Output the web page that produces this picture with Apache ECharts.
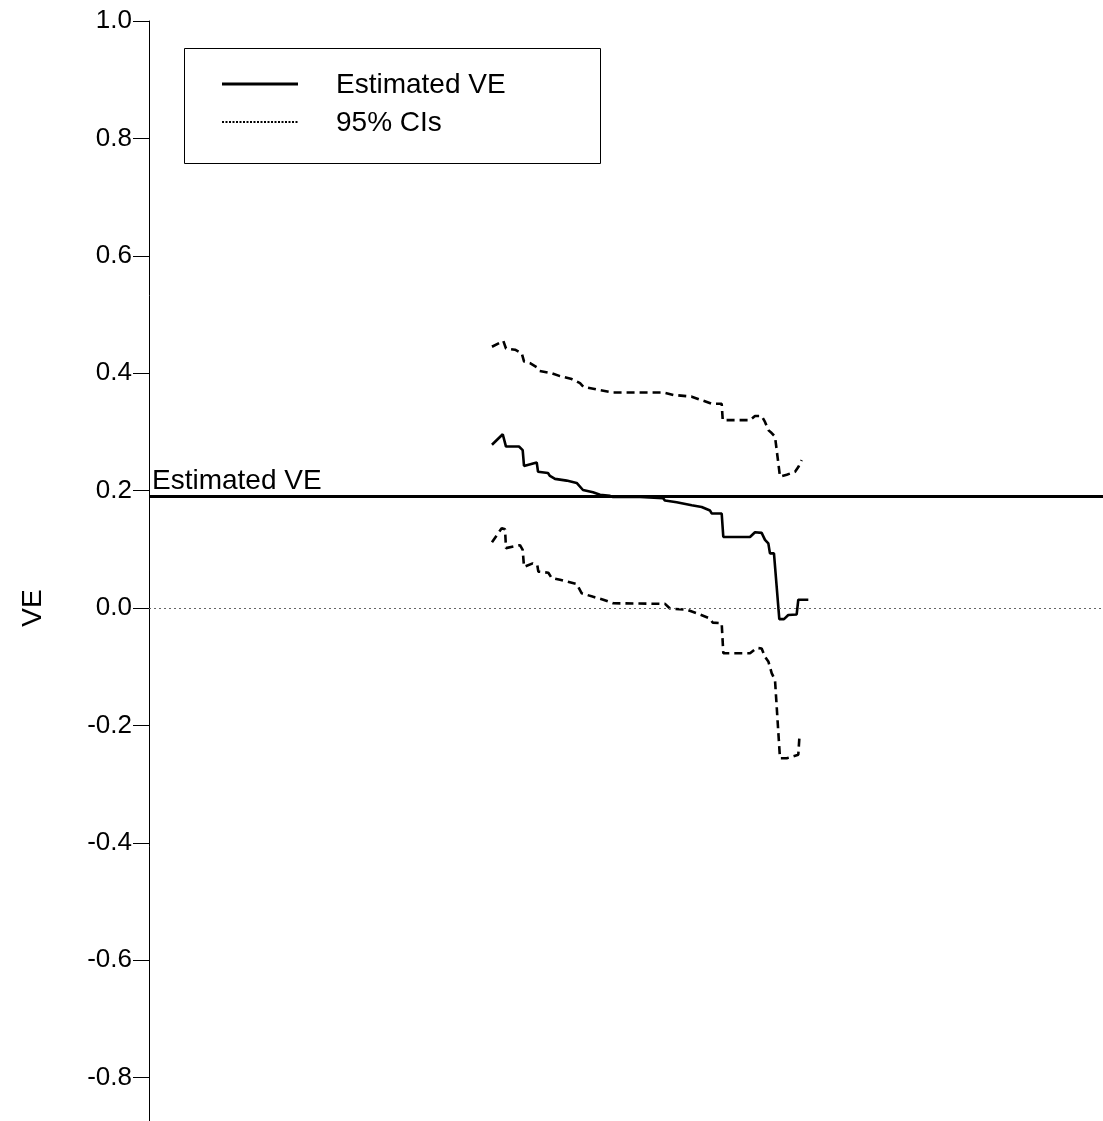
<!DOCTYPE html>
<html>
<head>
<meta charset="utf-8">
<script src="https://cdn.jsdelivr.net/npm/echarts@6/dist/echarts.min.js"></script>
<style>
html,body{margin:0;padding:0;background:#fff;}
#chart{width:1103px;height:1121px;}
</style>
</head>
<body>
<div id="chart"></div>
<script>
// Estimated VE curve (x in arbitrary time units, y = VE)
const veX = [35.95,37.08,37.42,38.78,39.17,39.31,40.64,40.78,41.82,42.03,42.56,43.78,44.83,45.49,46.54,47.28,48.32,48.64,51.47,53.88,54.09,55.31,56.89,57.93,58.81,58.98,60.03,60.20,63.00,63.52,64.22,64.57,64.92,65.09,65.51,66.07,66.56,67.01,67.89,68.06,69.11];
const veY = [0.278,0.296,0.275,0.275,0.269,0.242,0.248,0.232,0.230,0.225,0.220,0.217,0.213,0.201,0.197,0.193,0.191,0.189,0.189,0.187,0.183,0.180,0.175,0.172,0.166,0.161,0.161,0.121,0.121,0.129,0.128,0.116,0.110,0.093,0.093,-0.019,-0.019,-0.012,-0.011,0.014,0.014];

// Upper 95% CI
const upX = [35.95,37.14,37.42,38.37,39.07,39.31,39.94,40.64,40.91,42.21,43.08,44.31,45.18,45.52,47.28,48.67,53.56,53.91,54.96,56.89,57.93,58.98,60.03,60.14,63.00,63.52,64.22,64.57,64.92,65.27,65.62,66.14,66.85,67.72,68.06,68.42];
const upY = [0.445,0.455,0.442,0.440,0.434,0.420,0.417,0.410,0.404,0.400,0.395,0.390,0.383,0.377,0.371,0.367,0.367,0.367,0.363,0.360,0.354,0.348,0.348,0.320,0.320,0.327,0.327,0.317,0.303,0.298,0.292,0.224,0.227,0.232,0.240,0.252];

// Lower 95% CI
const loX = [35.95,36.97,37.32,37.42,38.89,39.17,39.31,40.22,40.70,40.81,41.86,42.21,43.08,44.83,45.36,46.57,47.62,48.67,54.09,54.61,56.36,57.41,58.81,59.09,60.03,60.20,63.00,63.70,64.22,64.57,64.92,65.27,65.62,66.14,66.85,68.06,68.17];
const loY = [0.112,0.136,0.134,0.102,0.107,0.099,0.070,0.076,0.073,0.062,0.060,0.051,0.048,0.041,0.025,0.019,0.014,0.008,0.007,-0.001,-0.003,-0.009,-0.018,-0.025,-0.026,-0.077,-0.077,-0.068,-0.069,-0.083,-0.091,-0.111,-0.123,-0.256,-0.256,-0.250,-0.222];

const overallVE = 0.186;
const yTicks = [-0.8,-0.6,-0.4,-0.2,0.0,0.2,0.4,0.6,0.8,1.0];
const legendLabels = ['Estimated VE','95% CIs'];
const yTitle = 'VE';

const pairs = (xs, ys) => xs.map((x, i) => [x, ys[i]]);
const FONT = '"Liberation Sans", Arial, sans-serif';

const chart = echarts.init(document.getElementById('chart'), null, {renderer: 'canvas'});
chart.setOption({
  animation: false,
  backgroundColor: '#fff',
  grid: {left: 149, right: 0, top: 21, bottom: 0, containLabel: false},
  xAxis: {type: 'value', min: 0, max: 100, show: false},
  yAxis: {
    type: 'value', min: -0.874, max: 1.0,
    axisLine: {show: true, lineStyle: {color: '#000', width: 1}},
    axisTick: {show: true, inside: false, length: 16, customValues: yTicks,
      lineStyle: {color: '#000', width: 1}},
    axisLabel: {margin: 17, fontFamily: FONT, fontSize: 26, color: '#000',
      customValues: yTicks, formatter: v => v.toFixed(1)},
    splitLine: {show: false}
  },
  series: [
    {
      type: 'line', name: legendLabels[0], data: pairs(veX, veY),
      showSymbol: false, symbol: 'none',
      lineStyle: {color: '#000', width: 2.6},
      markLine: {
        silent: true, symbol: 'none',
        data: [
          {yAxis: overallVE, lineStyle: {color: '#000', width: 3, type: 'solid'},
           label: {show: true, position: 'insideStartTop', formatter: legendLabels[0],
                   fontFamily: FONT, fontSize: 28, color: '#000', distance: [3, 1]}},
          {yAxis: 0, lineStyle: {color: '#666', width: 1, type: [2, 3]}, label: {show: false}}
        ]
      }
    },
    {
      type: 'line', name: legendLabels[1], data: pairs(upX, upY),
      showSymbol: false, symbol: 'none',
      lineStyle: {color: '#000', width: 2.6, type: [8, 5]}
    },
    {
      type: 'line', name: legendLabels[1] + ' lower', data: pairs(loX, loY),
      showSymbol: false, symbol: 'none',
      lineStyle: {color: '#000', width: 2.6, type: [8, 5]}
    }
  ],
  graphic: [
    {type: 'rect', shape: {x: 184.5, y: 48.5, width: 416, height: 115},
     style: {fill: '#fff', stroke: '#000', lineWidth: 1}, z: 10},
    {type: 'line', shape: {x1: 222, y1: 84, x2: 298, y2: 84},
     style: {stroke: '#000', lineWidth: 3}, z: 11},
    {type: 'line', shape: {x1: 222, y1: 122, x2: 298, y2: 122},
     style: {stroke: '#000', lineWidth: 2, lineDash: [2, 1.5]}, z: 11},
    {type: 'text', x: 336, y: 85, z: 11,
     style: {text: legendLabels[0], font: '28px ' + FONT, fill: '#000', verticalAlign: 'middle'}},
    {type: 'text', x: 336, y: 123, z: 11,
     style: {text: legendLabels[1], font: '28px ' + FONT, fill: '#000', verticalAlign: 'middle'}},
    {type: 'text', x: 33, y: 608, rotation: Math.PI / 2, z: 11,
     style: {text: yTitle, font: '28px ' + FONT, fill: '#000', align: 'center', verticalAlign: 'middle'}}
  ]
});
</script>
</body>
</html>
